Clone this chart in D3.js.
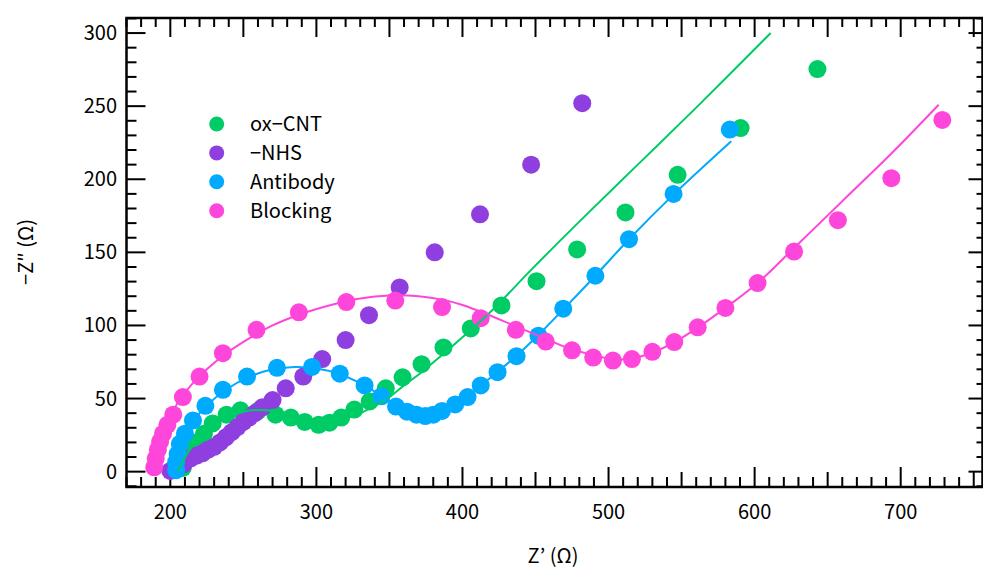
<!DOCTYPE html>
<html>
<head>
<meta charset="utf-8">
<script src="https://cdn.jsdelivr.net/npm/d3@7"></script>
<style>
  body { margin: 0; background: #fff; }
  text { font-family: "Noto Sans CJK JP", "Noto Sans", sans-serif; fill: #000; }
</style>
</head>
<body>
<div id="chart"></div>
<script>
// Nyquist plot: Z' vs -Z'' (ohm)

const seriesNames = ['ox\u2212CNT', '\u2212NHS', 'Antibody', 'Blocking'];
const seriesColors = ['#00cc66', '#8f3ee0', '#00aaff', '#ff46da'];

const oxCnt = [
    [208.5, 2.5], [211, 8], [214, 14], [218, 20], [223, 26], [229, 33], [238.5, 39],
    [248, 42], [260, 41.5], [272, 39], [282.5, 37], [292, 34], [301.5, 32], [309, 33.5],
    [317, 37], [326, 42.5], [336.5, 48], [347.5, 57], [359, 64.5], [372, 73.5], [387, 85],
    [405.7, 98], [426.7, 113.7], [450.7, 130.3], [478.5, 152], [511.6, 177.3],
    [547.3, 203], [590.4, 235], [643, 275.4]
];

const nhs = [
    [200, 0.5], [204, 2], [209, 5], [214, 9], [218, 11], [222, 12.5], [226, 15], [230, 17],
    [234, 20], [238, 23.5], [242, 27], [246, 30.5], [250, 34], [254, 37], [258, 40],
    [263, 44], [270, 49], [279, 57], [291, 65], [304, 77], [320, 90], [336, 107],
    [357, 126], [381, 150], [412, 176], [447, 210], [482, 252]
];

const antibody = [
    [204, 1], [204, 6.5], [205, 12], [206.5, 19], [210, 26], [215.5, 35], [224, 45],
    [236, 56], [252.5, 65], [273, 71], [297, 71.6], [316, 67], [333, 59], [344.5, 51.5],
    [354.5, 44.5], [362, 41], [368.5, 39], [374.5, 38], [380, 39], [386, 41.5], [395, 46],
    [403.5, 51], [412.5, 59], [424, 68], [437, 79], [452, 93], [469, 111.5], [491, 134],
    [514, 159], [544.5, 190], [583, 234]
];

const blocking = [
    [189, 3], [190, 9], [191.5, 15], [193, 20.5], [195, 26], [198, 32], [202, 39],
    [208.6, 51], [220, 65], [236, 81], [259, 97], [288, 109], [320.5, 116], [354, 117],
    [386, 112.6], [412.5, 105], [436.5, 97], [457, 89], [475, 83], [489.5, 78], [503, 76],
    [516, 77], [530, 82], [545, 88.6], [561, 98.7], [580, 112], [602, 129], [627, 150.5],
    [657, 172], [693.6, 200.7], [728.5, 240.6]
];

// fitted curves
const oxCntFit = [
    [205, 0], [208, 6], [212, 13], [217, 20], [223, 27], [230, 33], [240, 38], [252, 41.5],
    [265, 42], [278, 40], [290, 36.5], [300, 34], [310, 34], [320, 36.5], [330, 40],
    [340, 45], [350, 51], [360, 59], [372, 68], [385, 79], [400, 92], [420, 110],
    [446, 137], [480, 171], [520, 210], [560, 249], [611, 300]
];

const antibodyFit = [
    [204, 0], [205, 10], [208, 20], [213, 30], [220, 40], [228, 48], [238, 56], [252, 64],
    [268, 69.5], [285, 71.5], [300, 70.5], [315, 67], [330, 60.5], [345, 51.5], [356, 44],
    [365, 40], [374, 38], [382, 39], [390, 43], [400, 49], [412, 58.5], [425, 69],
    [440, 82], [455, 96.5], [470, 112], [491, 134], [514, 159], [545, 190], [584, 226]
];

const blockingFit = [
    [189, 0], [190, 8], [192, 16], [194, 24], [197, 32], [201, 40], [207, 50], [215, 60],
    [225, 70], [237, 80], [252, 90], [270, 100], [290, 108], [310, 114], [330, 118.5],
    [350, 120.5], [370, 120], [387, 117.5], [400, 114], [416, 108], [435, 100],
    [453, 92.5], [470, 85.5], [488, 80], [503, 77], [517, 77.5], [530, 81.5], [545, 88.5],
    [561, 98.5], [580, 112], [602, 129], [627, 153], [660, 185], [695, 219], [726, 251]
];

const xTickValues = [200, 300, 400, 500, 600, 700];
const yTickValues = [0, 50, 100, 150, 200, 250, 300];

// plot box in page pixels
const BOX = { left: 126.5, right: 982.5, top: 18, bottom: 487 };
const WIDTH = 983;
const HEIGHT = 570;

let svg = d3.select('#chart')
    .append('svg')
    .attr('width', WIDTH)
    .attr('height', HEIGHT);

let x = d3.scaleLinear()
    .domain([170, 756])
    .range([BOX.left, BOX.right]);

let y = d3.scaleLinear()
    .domain([-10.5, 310.3])
    .range([BOX.bottom, BOX.top]);

// minor ticks every 10
let xMinor = d3.range(170, 757, 10);
let yMinor = d3.range(-10, 311, 10);

function tickLen(v, big, mid, small) {
    if (v % 100 === 0) return big;
    if (v % 50 === 0) return mid;
    return small;
}

let ticks = svg.append('g')
    .attr('stroke', '#000')
    .attr('stroke-width', 2);

// bottom ticks point up into the plot
ticks.selectAll('.tb')
    .data(xMinor)
    .enter()
    .append('line')
    .attr('x1', (d) => x(d)).attr('x2', (d) => x(d))
    .attr('y1', BOX.bottom)
    .attr('y2', (d) => BOX.bottom - tickLen(d, 20, 15, 10));

// top ticks point down
ticks.selectAll('.tt')
    .data(xMinor)
    .enter()
    .append('line')
    .attr('x1', (d) => x(d)).attr('x2', (d) => x(d))
    .attr('y1', BOX.top)
    .attr('y2', (d) => BOX.top + tickLen(d, 19, 19, 9));

// left ticks
ticks.selectAll('.tl')
    .data(yMinor)
    .enter()
    .append('line')
    .attr('y1', (d) => y(d)).attr('y2', (d) => y(d))
    .attr('x1', BOX.left)
    .attr('x2', (d) => BOX.left + tickLen(d, 19, 19, 10));

// right ticks (shorter)
ticks.selectAll('.tr')
    .data(yMinor)
    .enter()
    .append('line')
    .attr('y1', (d) => y(d)).attr('y2', (d) => y(d))
    .attr('x1', BOX.right)
    .attr('x2', (d) => BOX.right - tickLen(d, 14, 14, 6));

// frame
svg.append('rect')
    .attr('x', BOX.left)
    .attr('y', BOX.top)
    .attr('width', BOX.right - BOX.left)
    .attr('height', BOX.bottom - BOX.top)
    .attr('fill', 'none')
    .attr('stroke', '#000')
    .attr('stroke-width', 2.5);

// tick labels
svg.selectAll('.xl')
    .data(xTickValues)
    .enter()
    .append('text')
    .attr('x', (d) => x(d))
    .attr('y', 519)
    .attr('text-anchor', 'middle')
    .style('font-size', '20px')
    .text((d) => d);

svg.selectAll('.yl')
    .data(yTickValues)
    .enter()
    .append('text')
    .attr('x', 117)
    .attr('y', (d) => y(d) + 7)
    .attr('text-anchor', 'end')
    .style('font-size', '20px')
    .text((d) => d);

// axis titles
svg.append('text')
    .attr('x', 553)
    .attr('y', 563)
    .attr('text-anchor', 'middle')
    .style('font-size', '20px')
    .text('Z\u2019 (\u03a9)');

svg.append('text')
    .attr('transform', 'translate(33,252) rotate(-90)')
    .attr('text-anchor', 'middle')
    .style('font-size', '20px')
    .text('\u2212Z\u2033 (\u03a9)');

// markers, in legend order
let allSeries = [oxCnt, nhs, antibody, blocking];

allSeries.forEach(function (data, i) {
    svg.append('g')
        .selectAll('circle')
        .data(data)
        .enter()
        .append('circle')
        .attr('cx', (d) => x(d[0]))
        .attr('cy', (d) => y(d[1]))
        .attr('r', 9)
        .attr('fill', seriesColors[i]);
});

// fitted lines on top
let fitLine = d3.line()
    .x((d) => x(d[0]))
    .y((d) => y(d[1]))
    .curve(d3.curveCatmullRom);

[[oxCntFit, 0], [antibodyFit, 2], [blockingFit, 3]].forEach(function (f) {
    svg.append('path')
        .datum(f[0])
        .attr('fill', 'none')
        .attr('stroke', seriesColors[f[1]])
        .attr('stroke-width', 2)
        .attr('d', fitLine);
});

// legend
let legend = svg.append('g');
seriesNames.forEach(function (name, i) {
    legend.append('circle')
        .attr('cx', 216.7)
        .attr('cy', 124 + i * 28.9)
        .attr('r', 7.5)
        .attr('fill', seriesColors[i]);
    legend.append('text')
        .attr('x', 250)
        .attr('y', 124 + i * 28.9 + 7)
        .style('font-size', '20px')
        .text(name);
});
</script>
</body>
</html>
